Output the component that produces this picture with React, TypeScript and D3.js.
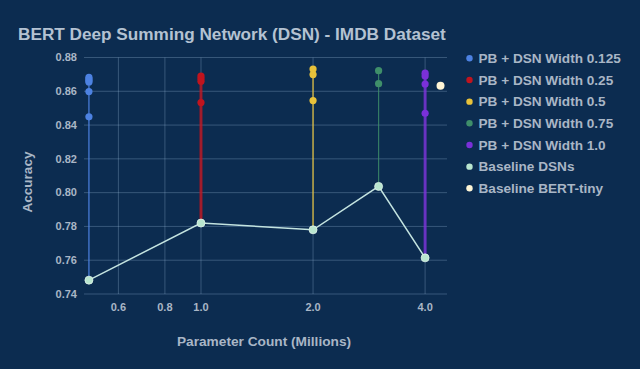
import React from "react";
import * as d3 from "d3";

const W = 640;
const H = 369;

const seriesNames = [
  "PB + DSN Width 0.125",
  "PB + DSN Width 0.25",
  "PB + DSN Width 0.5",
  "PB + DSN Width 0.75",
  "PB + DSN Width 1.0",
];
const seriesColors = ["#4d82e2", "#c0141e", "#e8c23a", "#3f8f6a", "#7a30d8"];
const seriesWidths = [1.5, 3, 1.5, 1.2, 3];
const seriesX = [0.5, 1.0, 2.0, 3.0, 4.0];
const seriesValues: number[][] = [
  [0.8682, 0.8672, 0.8663, 0.8655, 0.8598, 0.8449],
  [0.869, 0.8675, 0.866, 0.8533],
  [0.8732, 0.8699, 0.8545],
  [0.8722, 0.8645],
  [0.8707, 0.869, 0.8643, 0.847],
];
const baselineX = [0.5, 1.0, 2.0, 3.0, 4.0];
const baselineY = [0.7482, 0.782, 0.778, 0.8037, 0.7614];
const bertTinyX = [4.4];
const bertTinyY = [0.8633];

const xTicks = [0.6, 0.8, 1.0, 2.0, 4.0];
const yTicks = [0.74, 0.76, 0.78, 0.8, 0.82, 0.84, 0.86, 0.88];

const legendNames = [...seriesNames, "Baseline DSNs", "Baseline BERT-tiny"];
const baselineColor = "#b9e6cf";
const baselineLine = "#c4e4e0";
const bertColor = "#fff6d6";
const legendColors = [...seriesColors, baselineColor, bertColor];

export default function App() {
  const x = d3.scaleLog().domain([0.485, 4.58]).range([84, 447]);
  const y = d3.scaleLinear().domain([0.74, 0.88]).range([294, 57.5]);
  const grid = "rgba(170,200,230,0.28)";
  const textCol = "#a9b6c6";
  const font = "'Liberation Sans', Arial, sans-serif";

  const line = d3
    .line<number>()
    .x((_, i) => x(baselineX[i]))
    .y((d) => y(d));

  return (
    <svg
      width={W}
      height={H}
      style={{ position: "absolute", left: 0, top: 0, background: "#0c2c50" }}
      fontFamily={font}
    >
      <rect x={0} y={0} width={W} height={H} fill="#0c2c50" />
      <text x={18} y={39.5} fill="#b4c2d2" fontSize={17.2} fontWeight="bold">
        BERT Deep Summing Network (DSN) - IMDB Dataset
      </text>

      {yTicks.map((t) => (
        <g key={"y" + t}>
          <line x1={84} x2={447} y1={y(t)} y2={y(t)} stroke={grid} strokeWidth={1} />
          <text
            x={77}
            y={y(t)}
            dy="0.35em"
            textAnchor="end"
            fill={textCol}
            fontSize={11}
            fontWeight="bold"
          >
            {t.toFixed(2)}
          </text>
        </g>
      ))}
      {xTicks.map((t) => (
        <g key={"x" + t}>
          <line x1={x(t)} x2={x(t)} y1={y(0.88)} y2={y(0.74)} stroke={grid} strokeWidth={1} />
          <text
            x={x(t)}
            y={307}
            dy="0.35em"
            textAnchor="middle"
            fill={textCol}
            fontSize={11}
            fontWeight="bold"
          >
            {t.toFixed(1)}
          </text>
        </g>
      ))}

      <text
        transform={`translate(27,182) rotate(-90)`}
        textAnchor="middle"
        dy="0.35em"
        fill={textCol}
        fontSize={13.5}
        fontWeight="bold"
      >
        Accuracy
      </text>
      <text
        x={264}
        y={341}
        dy="0.35em"
        textAnchor="middle"
        fill={textCol}
        fontSize={13.7}
        fontWeight="bold"
      >
        Parameter Count (Millions)
      </text>

      {seriesValues.map((vals, si) => {
        const top = d3.max(vals) as number;
        return (
          <g key={"s" + si}>
            <line
              x1={x(seriesX[si])}
              x2={x(seriesX[si])}
              y1={y(baselineY[si])}
              y2={y(top)}
              stroke={seriesColors[si]}
              strokeWidth={seriesWidths[si]}
              opacity={0.8}
            />
            {vals.map((v, i) => (
              <circle
                key={i}
                cx={x(seriesX[si])}
                cy={y(v)}
                r={3.6}
                fill={seriesColors[si]}
              />
            ))}
          </g>
        );
      })}

      <path d={line(baselineY) || ""} fill="none" stroke={baselineLine} strokeWidth={1.5} />
      {baselineY.map((v, i) => (
        <circle key={"b" + i} cx={x(baselineX[i])} cy={y(v)} r={4} fill={baselineColor} stroke="#dff2ea" strokeWidth={0.8} />
      ))}
      {bertTinyY.map((v, i) => (
        <circle key={"t" + i} cx={x(bertTinyX[i])} cy={y(v)} r={4} fill={bertColor} />
      ))}

      {legendNames.map((n, i) => (
        <g key={"l" + i} transform={`translate(469.5,${58.3 + i * 21.67})`}>
          <circle cx={0} cy={0} r={3.2} fill={legendColors[i]} />
          <text x={9} y={0} dy="0.35em" fill={textCol} fontSize={13.6} fontWeight="bold">
            {n}
          </text>
        </g>
      ))}
    </svg>
  );
}
